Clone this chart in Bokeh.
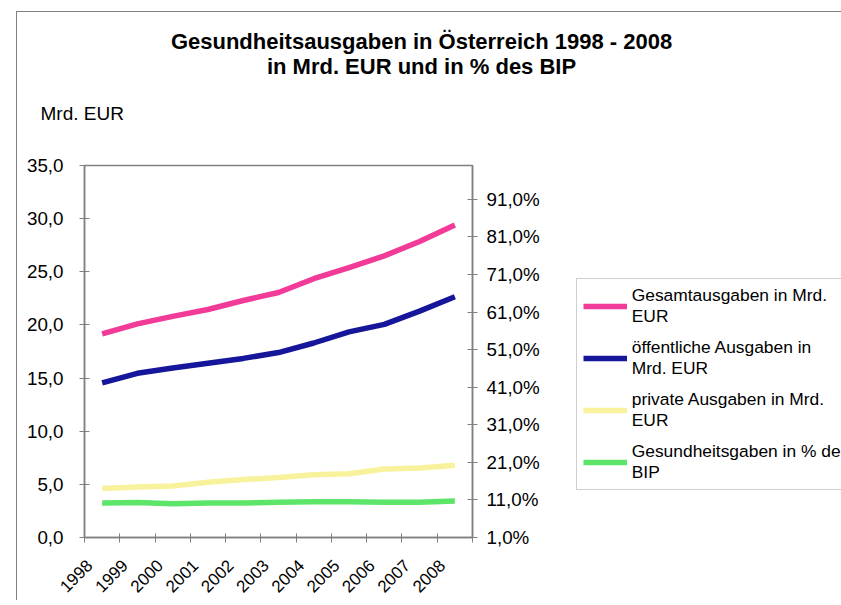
import math
from bokeh.plotting import figure
from bokeh.models import Range1d, LinearAxis, FixedTicker, Legend, LegendItem, Title
from bokeh.embed import file_html
from bokeh.resources import INLINE

# ---- data ----
years = [1998, 1999, 2000, 2001, 2002, 2003, 2004, 2005, 2006, 2007, 2008]
total_exp = [19.15, 20.1, 20.8, 21.45, 22.3, 23.05, 24.35, 25.4, 26.5, 27.85, 29.4]
public_exp = [14.55, 15.45, 15.95, 16.4, 16.85, 17.4, 18.3, 19.35, 20.05, 21.3, 22.65]
private_exp = [4.6, 4.75, 4.85, 5.2, 5.45, 5.65, 5.9, 6.0, 6.45, 6.55, 6.8]
gdp_share = [10.2, 10.3, 10.0, 10.2, 10.2, 10.4, 10.5, 10.5, 10.4, 10.4, 10.7]

left_ticks = [0, 5, 10, 15, 20, 25, 30, 35]
right_ticks = [1, 11, 21, 31, 41, 51, 61, 71, 81, 91]
series_names = [
    "Gesamtausgaben in Mrd.\nEUR",
    "öffentliche Ausgaben in\nMrd. EUR",
    "private Ausgaben in Mrd.\nEUR",
    "Gesundheitsgaben in % des\nBIP",
]
title_lines = ["Gesundheitsausgaben in Österreich 1998 - 2008", "in Mrd. EUR und in % des BIP"]
left_axis_title = "Mrd. EUR"

colors = ["#f23a98", "#16169a", "#f9f29c", "#5ce568"]
FONT = "Liberation Sans"
GRAY = "#808080"

p = figure(
    title=None,
    frame_width=388, frame_height=372,
    min_border_left=67, min_border_right=360, min_border_top=153, min_border_bottom=60,
    x_range=Range1d(1997.5, 2008.5), y_range=Range1d(0, 35),
    output_backend="svg", toolbar_location=None,
)
p.styles = {"position": "relative", "left": "16px", "top": "11px",
            "border-left": "1px solid #808080", "border-top": "1px solid #808080"}
p.xgrid.visible = False
p.ygrid.visible = False
p.outline_line_color = GRAY
p.outline_line_width = 1.5
p.extra_y_ranges = {"pct": Range1d(1, 100)}

# x axis: category boundaries as minor ticks, labels offset like the original
label_pos = [y - 0.36 for y in years]
bounds = [years[0] - 0.5 + i for i in range(len(years) + 1)]
xa = p.xaxis[0]
xa.ticker = FixedTicker(ticks=label_pos, minor_ticks=bounds)
xa.major_label_overrides = {lp: str(y) for lp, y in zip(label_pos, years)}
xa.major_label_orientation = math.pi / 4
xa.major_tick_in = 0
xa.major_tick_out = 0
xa.minor_tick_in = 4
xa.minor_tick_out = 5
xa.minor_tick_line_color = GRAY
xa.axis_line_color = GRAY
xa.axis_line_width = 1.5
xa.major_label_standoff = 20
xa.major_label_text_font = FONT
xa.major_label_text_font_size = "17px"
xa.major_label_text_color = "black"

ya = p.yaxis[0]
ya.ticker = FixedTicker(ticks=left_ticks)
ya.major_label_overrides = {t: f"{t:.1f}".replace(".", ",") for t in left_ticks}
ya.major_tick_in = 5
ya.major_tick_out = 5
ya.major_tick_line_color = GRAY
ya.axis_line_color = GRAY
ya.axis_line_width = 1.5
ya.major_label_standoff = 16
ya.major_label_text_font = FONT
ya.major_label_text_font_size = "18.8px"
ya.major_label_text_color = "black"

ra = LinearAxis(y_range_name="pct", ticker=FixedTicker(ticks=right_ticks))
ra.major_label_overrides = {t: f"{t:.1f}".replace(".", ",") + "%" for t in right_ticks}
ra.major_tick_in = 5
ra.major_tick_out = 5
ra.major_tick_line_color = GRAY
ra.axis_line_color = GRAY
ra.axis_line_width = 1.5
ra.major_label_standoff = 9
ra.major_label_text_font = FONT
ra.major_label_text_font_size = "18.8px"
ra.major_label_text_color = "black"
p.add_layout(ra, "right")

r1 = p.line(years, total_exp, line_width=5.5, color=colors[0])
r2 = p.line(years, public_exp, line_width=5.5, color=colors[1])
r3 = p.line(years, private_exp, line_width=5.5, color=colors[2])
r4 = p.line(years, gdp_share, line_width=5.5, color=colors[3], y_range_name="pct")

legend = Legend(
    items=[LegendItem(label=n, renderers=[r]) for n, r in zip(series_names, [r1, r2, r3, r4])],
    location=(-195, 47),
    glyph_width=44, glyph_height=20, label_standoff=5, padding=6, spacing=10, margin=0,
    label_text_font=FONT, label_text_font_size="17.4px", label_text_color="black",
    border_line_color="#a0a0a0", border_line_width=1, background_fill_color="white",
    background_fill_alpha=1.0,
)
p.add_layout(legend, "right")

# header texts stacked above the frame (nearest first); blank titles act as spacers
def header(text, size, style, offset, standoff):
    return Title(text=text, align="left", offset=offset, standoff=standoff,
                 vertical_align="bottom", text_font=FONT, text_font_size=size,
                 text_font_style=style, text_color="black")

p.add_layout(header(" ", "10px", "normal", 0, 28.5), "above")
p.add_layout(header(left_axis_title, "19px", "normal", -44, 0), "above")
p.add_layout(header(" ", "10px", "normal", 0, 11.9), "above")
p.add_layout(header(title_lines[1], "22px", "bold", 182.4, -6), "above")
p.add_layout(header(title_lines[0], "22px", "bold", 86.4, 0.8), "above")

open("out.html", "w").write(file_html(p, INLINE))
